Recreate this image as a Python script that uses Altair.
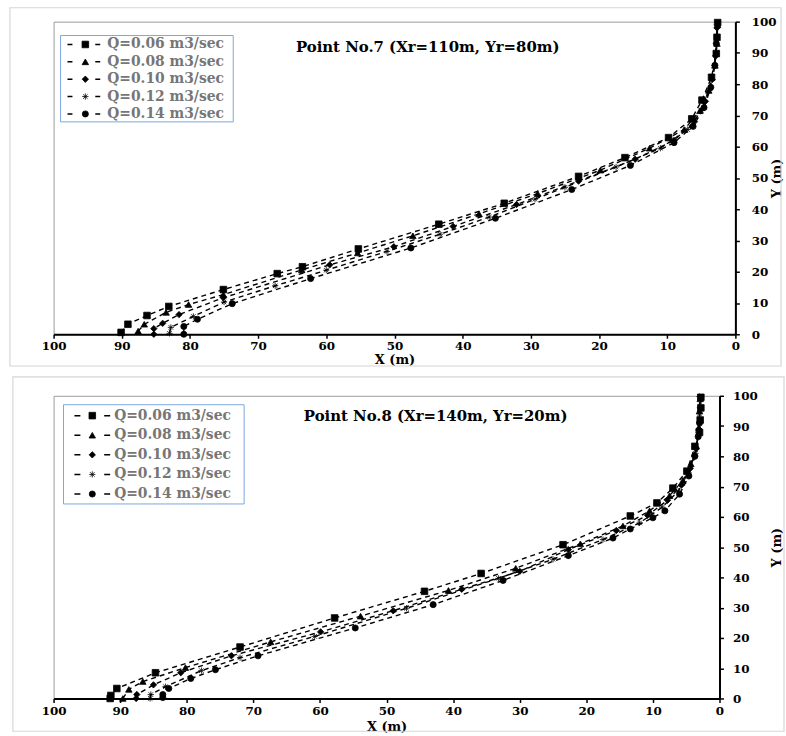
import altair as alt
import pandas as pd

# ---------------- data ----------------
SERIES = ["Q=0.06 m3/sec", "Q=0.08 m3/sec", "Q=0.10 m3/sec", "Q=0.12 m3/sec", "Q=0.14 m3/sec"]
X_TICKS = [0, 10, 20, 30, 40, 50, 60, 70, 80, 90, 100]
Y_TICKS = [0, 10, 20, 30, 40, 50, 60, 70, 80, 90, 100]
TITLE_7 = "Point No.7 (Xr=110m, Yr=80m)"
TITLE_8 = "Point No.8 (Xr=140m, Yr=20m)"

# Point No.7
P7_X_006 = [90.1, 89.1, 86.3, 83.1, 75.1, 67.2, 63.5, 55.3, 43.5, 33.9, 23.0, 16.2, 9.8, 6.4, 4.9, 3.5, 2.8, 2.7, 2.6]
P7_Y_006 = [0.6, 3.2, 6.0, 8.9, 14.3, 19.4, 21.6, 27.3, 35.2, 41.9, 50.5, 56.5, 62.9, 68.9, 74.9, 82.2, 89.8, 95.0, 99.7]
P7_X_008 = [87.6, 86.7, 83.5, 80.2, 75.1, 63.6, 55.4, 47.3, 37.6, 29.0, 19.8, 12.6, 7.5, 5.2, 3.9, 3.0, 2.7, 2.6]
P7_Y_008 = [1.0, 3.2, 7.0, 9.5, 12.7, 20.6, 26.0, 31.5, 38.5, 45.0, 52.5, 59.5, 65.5, 71.5, 78.0, 86.0, 93.0, 99.0]
P7_X_010 = [85.3, 85.3, 84.0, 81.6, 75.1, 59.5, 50.1, 41.4, 32.1, 23.0, 14.7, 9.0, 6.0, 4.4, 3.4, 2.9, 2.7]
P7_Y_010 = [0.0, 1.8, 3.5, 6.3, 11.7, 22.2, 28.0, 34.5, 41.5, 49.0, 56.0, 62.0, 68.0, 74.5, 81.5, 89.0, 98.0]
P7_X_012 = [83.0, 82.8, 79.5, 75.0, 67.5, 60.0, 51.1, 43.3, 36.1, 29.4, 25.0, 17.5, 11.0, 7.0, 5.0, 3.8, 3.1, 2.8, 2.7]
P7_Y_012 = [0.3, 2.2, 5.7, 10.3, 15.5, 20.5, 26.5, 32.0, 37.5, 43.2, 47.0, 53.5, 59.5, 65.5, 71.5, 78.0, 86.0, 93.0, 99.0]
P7_X_014 = [80.9, 80.9, 78.9, 73.8, 62.3, 47.6, 35.2, 24.0, 15.4, 9.0, 6.2, 4.6, 3.6, 3.0, 2.8]
P7_Y_014 = [0.0, 2.5, 4.8, 9.8, 17.8, 27.6, 37.1, 46.3, 54.0, 61.3, 66.5, 72.5, 79.0, 86.0, 93.0]

# Point No.8
P8_X_006 = [91.5, 91.4, 90.5, 84.7, 72.0, 57.8, 44.3, 35.8, 23.5, 13.4, 9.4, 7.0, 4.9, 3.7, 3.0, 2.9, 2.8, 2.8]
P8_Y_006 = [0.0, 1.0, 3.3, 8.5, 17.0, 26.6, 35.4, 41.3, 50.8, 60.3, 64.6, 69.5, 75.1, 83.3, 87.9, 92.0, 96.0, 99.5]
P8_X_008 = [89.6, 88.7, 86.6, 80.2, 67.4, 53.9, 40.7, 30.6, 20.9, 14.5, 10.5, 7.5, 5.5, 4.3, 3.5, 3.1, 3.0, 2.9]
P8_Y_008 = [0.0, 3.0, 5.6, 10.2, 18.7, 27.2, 35.7, 43.0, 51.1, 57.0, 62.0, 67.0, 72.0, 77.5, 83.5, 89.5, 95.0, 99.0]
P8_X_010 = [87.6, 87.5, 85.0, 80.9, 73.3, 59.9, 49.0, 38.7, 30.0, 22.7, 15.5, 10.8, 7.8, 5.7, 4.4, 3.5, 3.1, 2.9]
P8_Y_010 = [0.0, 1.3, 4.5, 8.5, 14.1, 22.0, 29.0, 36.1, 42.0, 49.2, 55.5, 60.5, 65.5, 70.5, 76.0, 82.5, 89.0, 96.0]
P8_X_012 = [85.5, 85.4, 83.2, 77.8, 72.0, 60.8, 47.0, 33.2, 25.0, 17.5, 12.0, 8.6, 6.2, 4.6, 3.6, 3.2, 3.0, 3.0]
P8_Y_012 = [0.0, 1.3, 3.9, 9.2, 13.5, 20.5, 29.8, 39.7, 46.0, 52.5, 58.0, 63.2, 68.5, 74.5, 81.0, 88.0, 94.0, 99.7]
P8_X_014 = [83.6, 83.6, 82.7, 79.4, 75.7, 69.3, 54.7, 43.0, 32.5, 22.7, 16.0, 13.4, 10.0, 8.2, 6.0, 4.6, 3.7, 3.2, 3.0]
P8_Y_014 = [0.3, 1.3, 3.3, 6.6, 9.5, 14.1, 23.3, 31.0, 39.0, 47.2, 53.0, 56.0, 59.7, 62.0, 67.5, 73.5, 80.0, 86.5, 91.0]

# ---------------- styling ----------------
FONT = "DejaVu Serif"
STAR = "M-1,0L1,0M0,-1L0,1M-0.72,-0.72L0.72,0.72M-0.72,0.72L0.72,-0.72"
SHAPES = ["square", "triangle-up", "diamond", STAR, "circle"]
SIZES = [44, 38, 34, 44, 38]


def build(xs, ys):
    rows = []
    for name, xl, yl in zip(SERIES, xs, ys):
        for i, (a, b) in enumerate(zip(xl, yl)):
            rows.append({"series": name, "x": a, "y": b, "seq": i})
    return pd.DataFrame(rows)


def panel(df, title, w, h, lay):
    shape_enc = alt.Shape("series:N", scale=alt.Scale(domain=SERIES, range=SHAPES), legend=None)
    size_enc = alt.Size("series:O", scale=alt.Scale(domain=SERIES, range=SIZES), legend=None)
    x_enc = alt.X(
        "x:Q",
        scale=alt.Scale(domain=[0, 100], reverse=True, nice=False, zero=False),
        axis=alt.Axis(
            values=X_TICKS, format="d", title="X (m)", grid=False,
            domainColor="black", domainWidth=2, tickColor="black", tickWidth=1.5,
            tickSize=4, labelFlush=False, labelFont=FONT, labelFontWeight="bold",
            labelFontSize=12, labelColor="black", labelPadding=lay["xlp"],
            titleFont=FONT, titleFontWeight="bold", titleFontSize=13, titleColor="black",
            titleX=w / 2, titleY=lay["xty"], titleBaseline="middle", titleAlign="center",
        ),
    )
    y_enc = alt.Y(
        "y:Q",
        scale=alt.Scale(domain=[0, 100], nice=False),
        axis=alt.Axis(
            orient="right", values=Y_TICKS, format="d", title="Y (m)", grid=False,
            domainColor="black", domainWidth=2, tickColor="black", tickWidth=1.5,
            tickSize=4, labelFlush=False, labelFont=FONT, labelFontWeight="bold",
            labelFontSize=12, labelColor="black", labelPadding=lay["ylp"],
            titleFont=FONT, titleFontWeight="bold", titleFontSize=13, titleColor="black",
            titleAngle=270, titleX=lay["ytx"], titleY=h / 2, titleBaseline="middle",
            titleAlign="center",
        ),
    )
    one = pd.DataFrame({"t": [title]})
    fx0, fx1, fy0, fy1 = lay["frame"]
    frame_l = alt.Chart(one).mark_rect(fill="white", fillOpacity=0, stroke="#d6d6d6", strokeWidth=1.2).encode(
        x=alt.value(fx0), x2=alt.value(fx1), y=alt.value(fy0), y2=alt.value(fy1))

    base = alt.Chart(df)
    lines = base.mark_line(color="black", strokeWidth=1.4, strokeDash=[5, 4]).encode(
        x=x_enc, y=y_enc, detail="series:N", order="seq:Q")
    pts = base.mark_point(filled=True, color="black", stroke="black", strokeWidth=0.8, opacity=1).encode(
        x=x_enc, y=y_enc, shape=shape_enc, size=size_enc)
    main = alt.layer(frame_l, lines, pts)

    leg_df = pd.DataFrame({"series": SERIES, "idx": list(range(len(SERIES)))})
    ly = alt.Y("idx:Q", scale=alt.Scale(domain=[0, len(SERIES) - 1], range=lay["rows"]), axis=None)
    bx0, bx1, by0, by1 = lay["box"]
    box = alt.Chart(one).mark_rect(fill="white", stroke="#7ba7dc", strokeWidth=1).encode(
        x=alt.value(bx0), x2=alt.value(bx1), y=alt.value(by0), y2=alt.value(by1))
    dx0, dx1 = lay["dash"]
    dash = alt.Chart(leg_df).mark_rule(color="black", strokeWidth=1.5, strokeDash=lay["dashpat"]).encode(
        x=alt.value(dx0), x2=alt.value(dx1), y=ly)
    lmark = alt.Chart(leg_df).mark_point(filled=True, color="black", stroke="black", strokeWidth=0.8, opacity=1).encode(
        x=alt.value(lay["mx"]), y=ly, shape=shape_enc, size=size_enc)
    ltext = alt.Chart(leg_df).mark_text(align="left", baseline="middle", font=FONT, fontWeight="bold",
                                        fontSize=14, color="#767676").encode(
        x=alt.value(lay["tx"]), y=ly, text="series:N")
    ttl = alt.Chart(one).mark_text(align="center", baseline="middle", font=FONT, fontWeight="bold",
                                   fontSize=15, color="black").encode(
        x=alt.value(lay["title"][0]), y=alt.value(lay["title"][1]), text="t:N")
    legend = alt.layer(box, dash, lmark, ltext, ttl)

    return alt.layer(main, legend).resolve_scale(y="independent").properties(width=w, height=h)


df7 = build([P7_X_006, P7_X_008, P7_X_010, P7_X_012, P7_X_014],
            [P7_Y_006, P7_Y_008, P7_Y_010, P7_Y_012, P7_Y_014])
df8 = build([P8_X_006, P8_X_008, P8_X_010, P8_X_012, P8_X_014],
            [P8_Y_006, P8_Y_008, P8_Y_010, P8_Y_012, P8_Y_014])

lay7 = dict(xlp=2, xty=25, ylp=12, ytx=41, frame=(-44, 733, -14, 347),
            rows=[23, 93], box=(7, 181, 14, 101), dash=(14, 47), dashpat=[5, 23],
            mx=32, tx=54, title=(377, 26))
lay8 = dict(xlp=3, xty=28, ylp=9, ytx=57, frame=(-41, 736, -19, 338),
            rows=[20, 99], box=(10, 192, 9, 109), dash=(21, 57), dashpat=[6, 24],
            mx=39, tx=61, title=(385, 20))

top = panel(df7, TITLE_7, 687, 315, lay7)
bottom = panel(df8, TITLE_8, 671, 305, lay8)

chart = alt.vconcat(top, bottom, spacing=7).properties(
    padding={"left": 8, "top": 3, "right": 0, "bottom": 0},
    background="white",
).configure_view(stroke="#9a9a9a", strokeWidth=1)

chart.save("out.html", embed_options={"renderer": "svg", "actions": False})
